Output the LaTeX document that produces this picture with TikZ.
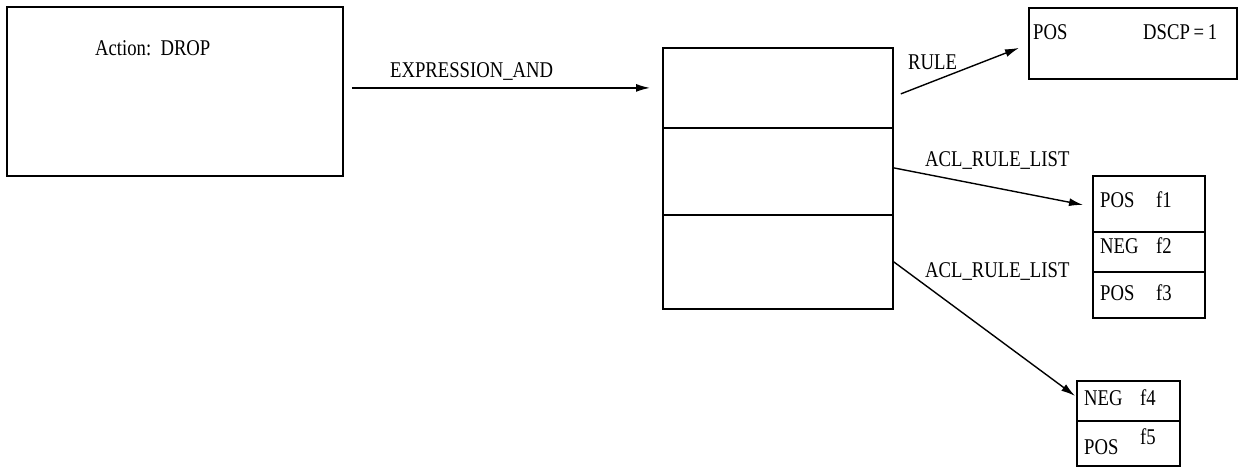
\documentclass[tikz,border=0pt]{standalone}
\usepackage{fontspec}
\setmainfont{Liberation Serif}[FakeStretch=0.83]
\usetikzlibrary{arrows.meta}
\begin{document}
\begin{tikzpicture}[x=1pt,y=-1pt,
  cell/.style 2 args={draw,line width=1.8pt,minimum width=#1pt,minimum height=#2pt,
    inner sep=0pt,anchor=north west},
  lbl/.style={inner sep=0pt,anchor=base west,font=\fontsize{22.5}{26}\selectfont},
  arr/.style={line width=1.4pt,-{Latex[length=14pt,width=8pt]}}]
\useasboundingbox (0,0) rectangle (1241,470);

% action box
\node[cell={336}{169}] (act) at (6,6) {};
\node[lbl] (tact) at (95,56) {Action:\ \ DROP};

% expression node with three slots
\node[cell={230}{80}] (m1) at (662,47) {};
\node[cell={230}{87}] (m2) at (662,127) {};
\node[cell={230}{94}] (m3) at (662,214) {};

% rule box
\node[cell={208}{71}] (tr) at (1028,7) {};
\node[lbl] (trpos) at (1033,40) {POS};
\node[lbl] (trdscp) at (1143,40) {DSCP{\,}={\,}1};

% first rule list
\node[cell={112}{56}] (fa) at (1092,175) {};
\node[cell={112}{40}] (fb) at (1092,231) {};
\node[cell={112}{46}] (fc) at (1092,271) {};
\node[lbl] (fapos) at (1100,208) {POS};
\node[lbl] (faf) at (1156,208) {f1};
\node[lbl] (fbneg) at (1100,254) {NEG};
\node[lbl] (fbf) at (1156,254) {f2};
\node[lbl] (fcpos) at (1100,300) {POS};
\node[lbl] (fcf) at (1156,300) {f3};

% second rule list
\node[cell={103}{40}] (fd) at (1076,380) {};
\node[cell={103}{45}] (fe) at (1076,420) {};
\node[lbl] (fdneg) at (1084,405) {NEG};
\node[lbl] (fdf) at (1140,405) {f4};
\node[lbl] (fepos) at (1084,454) {POS};
\node[lbl] (fef) at (1140,444) {f5};

% connectors
\draw[arr] ([xshift=8pt,yshift=3.5pt]act.east) -- ([xshift=-12pt]m1.west);
\node[lbl] (lexp) at (390,77.5) {EXPRESSION\_AND};

\draw[arr] ([xshift=7pt,yshift=-6pt]m1.east) -- ([xshift=-9pt,yshift=-4.5pt]tr.west);
\node[lbl] (lrule) at (908,70) {RULE};

\draw[arr] ([yshift=3.5pt]m2.east) -- ([xshift=-9pt,yshift=-1pt]fa.west);
\node[lbl] (lacla) at (925,167) {ACL\_RULE\_LIST};

\draw[arr] (m3.east) -- ([xshift=-1pt,yshift=5pt]fd.west);
\node[lbl] (laclb) at (925,277) {ACL\_RULE\_LIST};
\end{tikzpicture}
\end{document}
